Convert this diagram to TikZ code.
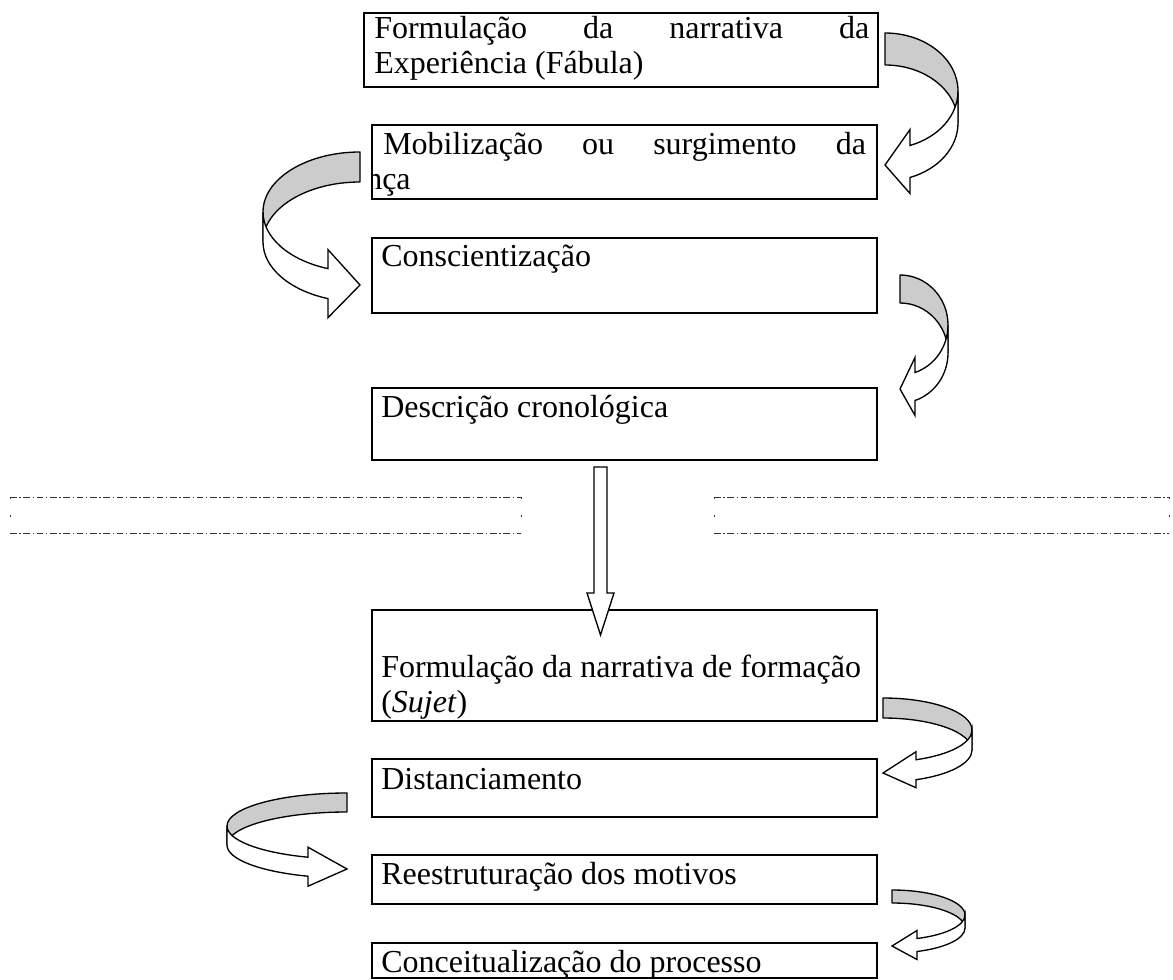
\documentclass[tikz,border=0pt]{standalone}
\usepackage{fontspec}
\setmainfont{Liberation Serif}
\tikzset{
  box/.style={draw, line width=1.4pt, rectangle, inner sep=0pt, outer sep=0pt, anchor=north west},
  txt/.style={anchor=base west, inner sep=0pt, font=\fontsize{24}{26}\selectfont},
  backband/.style={fill=gray!40, draw=black, line width=1pt, line join=round},
  frontband/.style={fill=white, draw=black, line width=1pt, line join=miter},
  dashbox/.style={draw=none, inner sep=0pt, outer sep=0pt, anchor=north west},
  ddash/.style={draw=black!80, line width=0.6pt, dash pattern=on 5pt off 2pt on 1pt off 2pt},
  dside/.style={draw=black!80, line width=0.6pt, dash pattern=on 1.2pt off 12.3pt},
  blockarrow/.style={fill=white, draw=black, line width=1pt, line join=miter}
}
% curved (bent) block arrow: s, R, T, W, hR, th, ah, dh, tip
\newcommand\bentarrow[9]{%
  \pgfmathsetmacro\BAs{#1}%
  \pgfmathsetmacro\BAR{#2}%
  \pgfmathsetmacro\BAT{#3}%
  \pgfmathsetmacro\BAW{#4}%
  \pgfmathsetmacro\BAhR{#5}%
  \pgfmathsetmacro\BAth{#6}%
  \pgfmathsetmacro\BAah{#7}%
  \pgfmathsetmacro\BAdh{#8}%
  \pgfmathsetmacro\BAtip{#9}%
  \pgfmathsetmacro\BAca{\BAah/\BAW}%
  \pgfmathsetmacro\BAsa{sqrt(1-\BAca*\BAca)}%
  \pgfmathsetmacro\BAal{acos(\BAca)}%
  \pgfmathsetmacro\BAh{4/3*tan(\BAal/4)}%
  \pgfmathsetmacro\BAX{\BAR+(\BAs)*\BAW}%
  \pgfmathsetmacro\BAkx{\BAR+(\BAs)*0.5523*\BAW}%
  \pgfmathsetmacro\BAyo{\BAT+\BAhR}%
  \pgfmathsetmacro\BAyi{\BAT+\BAth+\BAhR}%
  \pgfmathsetmacro\BAxa{\BAR+(\BAs)*\BAah}%
  \pgfmathsetmacro\BAyf{\BAyo+\BAhR*\BAsa}%
  \pgfmathsetmacro\BAys{\BAyi+\BAhR*\BAsa}%
  \pgfmathsetmacro\BAcx{\BAR+(\BAs)*\BAW*(\BAca+\BAh*\BAsa)}%
  \pgfmathsetmacro\BAcy{\BAhR*(\BAsa-\BAh*\BAca)}%
  \pgfmathsetmacro\BAqy{0.5523*\BAhR}%
  \pgfmathsetmacro\BAhy{\BAh*\BAhR}%
  \pgfmathsetmacro\BAtt{\BAT+\BAth}%
  \filldraw[backband] (\BAR,\BAT) .. controls (\BAkx,\BAT) and (\BAX,\BAyo-\BAqy) .. (\BAX,\BAyo)
     -- (\BAX,\BAyi) .. controls (\BAX,\BAyi-\BAqy) and (\BAkx,\BAtt) .. (\BAR,\BAtt) -- cycle;
  \filldraw[frontband] (\BAX,\BAyo) .. controls (\BAX,\BAyo+\BAhy) and (\BAcx,\BAyo+\BAcy) .. (\BAxa,\BAyf)
     -- (\BAxa,\BAyf-\BAdh) -- (\BAR,\BAtip) -- (\BAxa,\BAys+\BAdh) -- (\BAxa,\BAys)
     .. controls (\BAcx,\BAyi+\BAcy) and (\BAX,\BAyi+\BAhy) .. (\BAX,\BAyi) -- cycle;
}
\begin{document}
\begin{tikzpicture}[x=0.75pt, y=-0.75pt]
\useasboundingbox (0,0) rectangle (1173,980);

% boxes
\node[box, minimum width=385.5pt, minimum height=55.5pt] (b1) at (364,13) {};
\node[box, minimum width=378.75pt, minimum height=55.5pt] (b2) at (372,125) {};
\node[box, minimum width=378.75pt, minimum height=56.25pt] (b3) at (372,238) {};
\node[box, minimum width=378.75pt, minimum height=54pt] (b4) at (372,388) {};
\node[box, minimum width=378.75pt, minimum height=83.25pt] (b5) at (372,610) {};
\node[box, minimum width=378.75pt, minimum height=43.5pt] (b6) at (372,759) {};
\node[box, minimum width=378.75pt, minimum height=36.75pt] (b7) at (372,855) {};
\node[box, minimum width=378.75pt, minimum height=26.25pt] (b8) at (372,943) {};

% texts
\node[txt] (t1a) at (374,39) {\hbox to 371.25pt{Formulação\hfill da\hfill narrativa\hfill da}};
\node[txt] (t1b) at (374,74) {Experiência (Fábula)};
\node[txt] (t2a) at (383,155) {\hbox to 362pt{Mobilização\hfill ou\hfill surgimento\hfill da}};
\begin{scope}
  \clip (372,160) rectangle (877,199);
  \node[txt] (t2b) at (366,190) {nça};
\end{scope}
\node[txt] (t3) at (381,267) {Conscientização};
\node[txt] (t4) at (381,417) {Descrição cronológica};
\node[txt] (t5a) at (381,677) {Formulação da narrativa de formação};
\node[txt] (t5b) at (381,712) {(\textit{Sujet})};
\node[txt] (t6) at (381,789) {Distanciamento};
\node[txt] (t7) at (381,884) {Reestruturação dos motivos};
\node[txt] (t8) at (381,972) {Conceitualização do processo};

% dashed empty boxes
\node[dashbox, minimum width=383.25pt, minimum height=27pt] (d1) at (10,497) {};
\node[dashbox, minimum width=341.25pt, minimum height=27pt] (d2) at (714,497) {};
\foreach \d in {d1,d2}{
  \draw[ddash] (\d.north west) -- (\d.north east);
  \draw[ddash] (\d.south west) -- (\d.south east);
  \draw[dside] (\d.north west) -- (\d.south west);
  \draw[dside] (\d.north east) -- (\d.south east);
}

% straight block arrow b4 -> b5
\coordinate (dtop) at (600.5,467);
\draw[blockarrow] (dtop) ++(-6.5,0) -- ++(13,0) -- ++(0,126) -- ++(7,0) -- ++(-13.5,42)
   -- ++(-13.5,-42) -- ++(7,0) -- cycle;

% curved block arrows
\bentarrow{1}{885}{33}{73}{58}{32}{25}{16}{165}
\bentarrow{-1}{360}{152}{97}{60}{30}{32}{19}{285}
\bentarrow{1}{900}{275}{48}{50}{28}{15}{15}{389}
\bentarrow{1}{883}{698}{89}{32}{20}{33}{8}{773}
\bentarrow{-1}{347}{793}{120}{33}{19}{39}{10}{869}
\bentarrow{1}{892}{890}{73}{25}{13}{25}{8}{946}
\end{tikzpicture}
\end{document}
